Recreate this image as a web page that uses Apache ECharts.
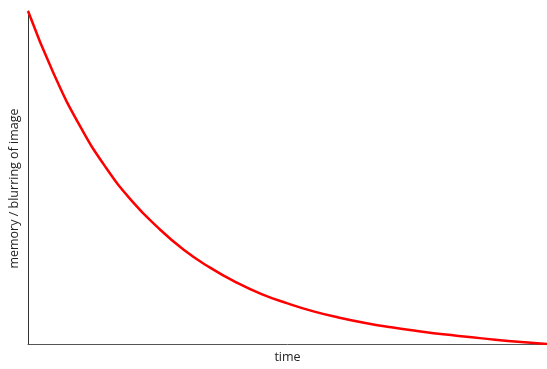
<!DOCTYPE html>
<html>
<head>
<meta charset="utf-8">
<script src="https://cdn.jsdelivr.net/npm/echarts@6/dist/echarts.min.js"></script>
<style>
  html, body { margin: 0; padding: 0; background: #fff; }
  #chart { width: 547px; height: 369px; }
</style>
</head>
<body>
<div id="chart"></div>
<script>
// valores (tiempo vs memoria)
var tiempo = [0, 5, 10, 15, 20, 25, 30, 35, 40, 45, 50, 55, 60, 65, 70, 75, 80, 85, 90, 95, 100];
var memoria = [100, 81, 65.5, 53, 43, 35, 28.3, 23, 18.6, 15, 12.2, 9.8, 7.9, 6.3, 5, 3.9, 2.9, 2.1, 1.3, 0.6, 0];

var puntos = tiempo.map(function (t, i) {
  return [t, memoria[i]];
});

var myChart = echarts.init(document.getElementById('chart'));

var option = {
  animation: false,
  grid: { left: 27, right: 0, top: 11, bottom: 21 },
  xAxis: {
    type: 'value',
    min: 0,
    max: 100,
    name: 'time',
    nameLocation: 'middle',
    nameGap: 7,
    nameTextStyle: {
      fontFamily: 'Open Sans',
      fontSize: 12.5,
      color: '#222',
    },
    axisLine: { lineStyle: { color: '#555', width: 1 } },
    axisTick: { show: false },
    axisLabel: { show: false },
    splitLine: { show: false },
  },
  yAxis: {
    type: 'value',
    min: 0,
    max: 100,
    name: 'memory / blurring of image',
    nameLocation: 'middle',
    nameGap: 7,
    nameTextStyle: {
      fontFamily: 'Open Sans',
      fontSize: 12.5,
      color: '#222',
      padding: [0, 22, 0, 0],
    },
    axisLine: { show: true, lineStyle: { color: '#333', width: 1 } },
    axisTick: { show: false },
    axisLabel: { show: false },
    splitLine: { show: false },
  },
  series: [
    {
      type: 'line',
      data: puntos,
      smooth: true,
      showSymbol: false,
      lineStyle: { color: '#ff0000', width: 2.5 },
    },
  ],
};

myChart.setOption(option);
</script>
</body>
</html>
